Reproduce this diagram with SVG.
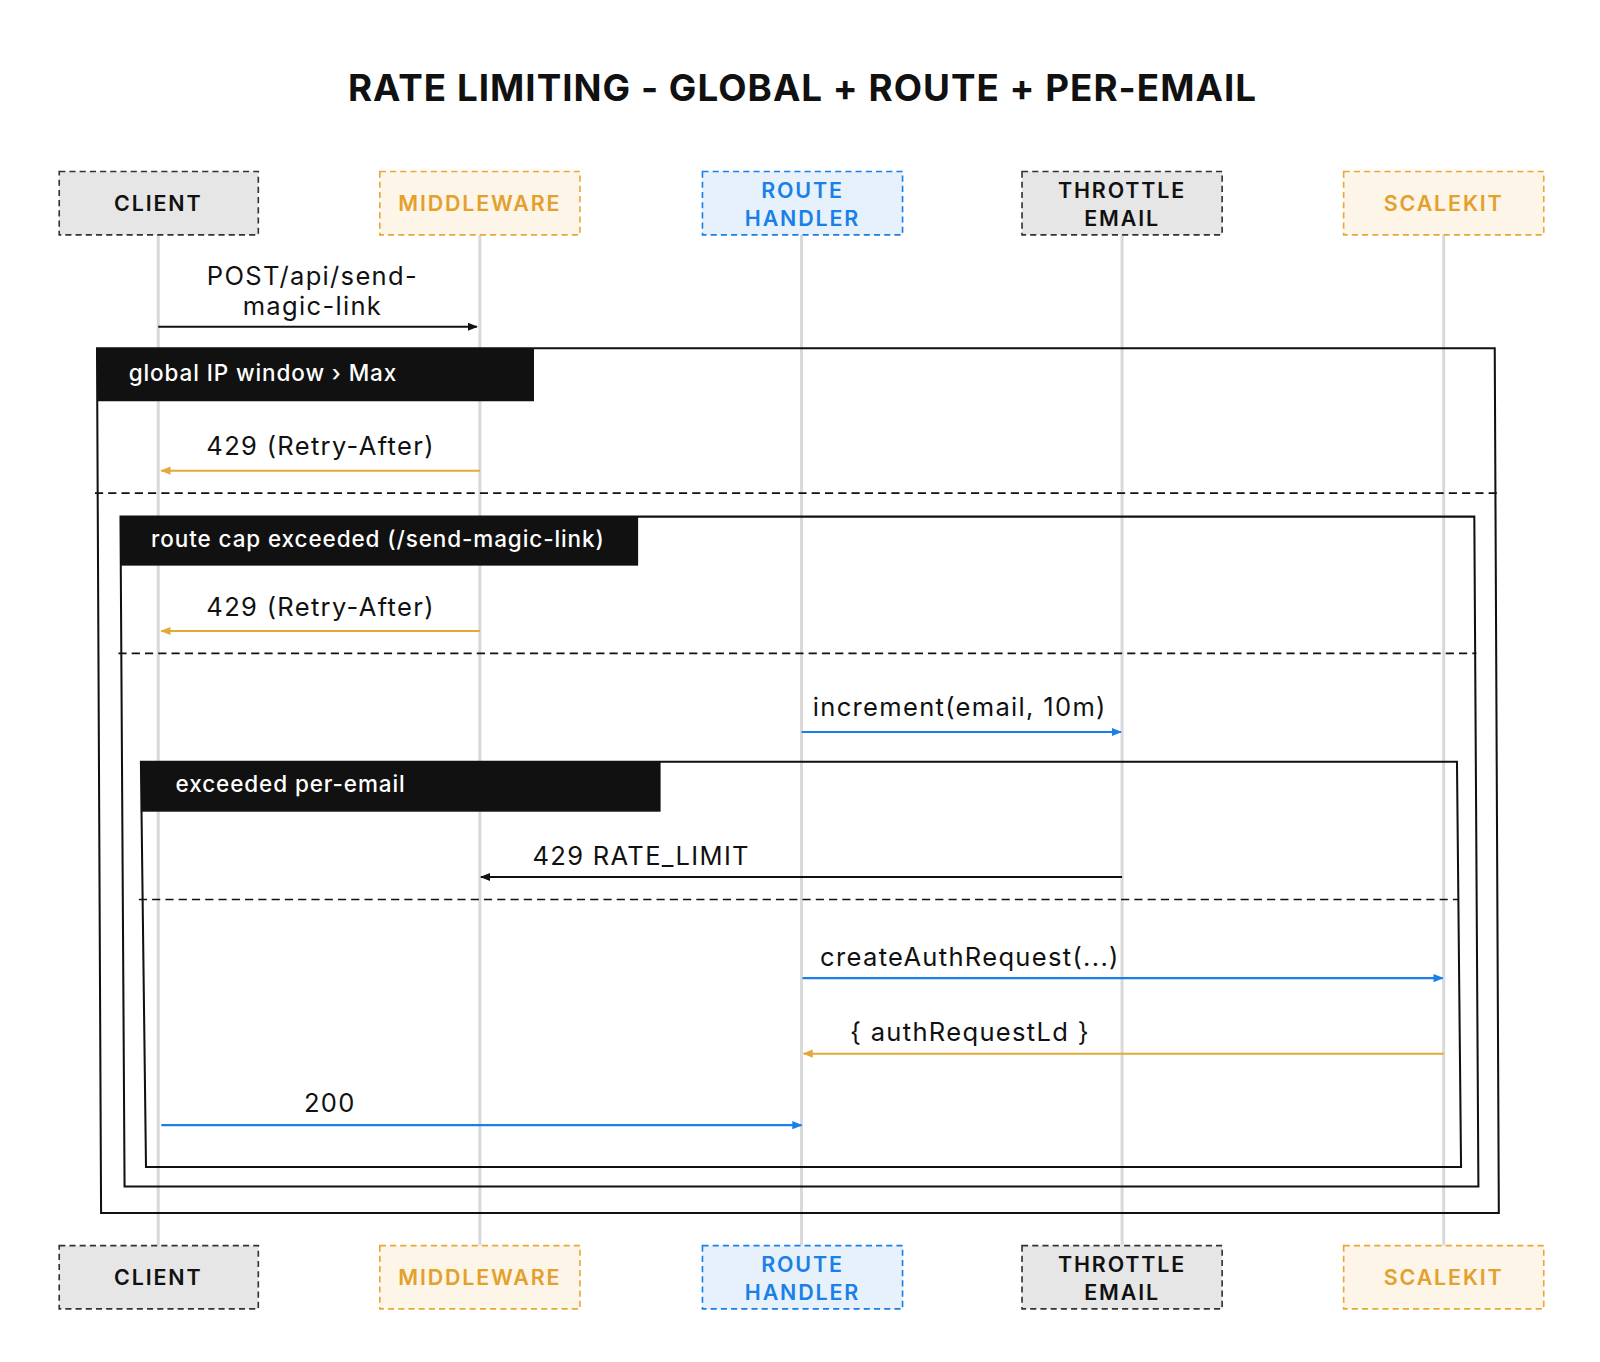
<svg xmlns="http://www.w3.org/2000/svg" width="1600" height="1362" viewBox="0 0 1600 1362">
<style>
text{font-family:Inter,"Open Sans",sans-serif}
.life{stroke:#d9d9d9;stroke-width:3}
.hd{font-weight:600;font-size:21px;letter-spacing:1.8px;text-anchor:middle}
.g rect{fill:#e6e6e6;stroke:#333;stroke-width:1.6;stroke-dasharray:6 4}
.o rect{fill:#fdf5e8;stroke:#e8a838;stroke-width:1.6;stroke-dasharray:6 4}
.b rect{fill:#e6f1fb;stroke:#1a7fe8;stroke-width:1.6;stroke-dasharray:6 4}
.g text{fill:#111}.o text{fill:#e3a02c}.b text{fill:#1a7fe8}
.fr{fill:none;stroke:#111;stroke-width:2}
.lb{fill:#111}
.lt{fill:#fff;font-size:22px;font-weight:500;letter-spacing:0.9px}
.dash{stroke:#111;stroke-width:1.6;stroke-dasharray:8 5}
.m{font-size:25px;fill:#111;letter-spacing:1.3px}
</style>
<defs>
<marker id="ak" markerWidth="10" markerHeight="10" refX="9" refY="5" orient="auto" markerUnits="userSpaceOnUse"><path d="M0,1 L10,5 L0,9z" fill="#111"/></marker>
<marker id="ao" markerWidth="10" markerHeight="10" refX="9" refY="5" orient="auto" markerUnits="userSpaceOnUse"><path d="M0,1 L10,5 L0,9z" fill="#e3a838"/></marker>
<marker id="ab" markerWidth="10" markerHeight="10" refX="9" refY="5" orient="auto" markerUnits="userSpaceOnUse"><path d="M0,1 L10,5 L0,9z" fill="#1a7fe8"/></marker>
</defs>
<rect width="1600" height="1362" fill="#fff"/>
<g transform="scale(1.021)">
<text x="786" y="99" text-anchor="middle" font-size="36" font-weight="700" letter-spacing="1" fill="#111">RATE LIMITING - GLOBAL + ROUTE + PER-EMAIL</text>
<g id="lifelines">
<line class="life" x1="155" y1="230" x2="155" y2="1220"/>
<line class="life" x1="470" y1="230" x2="470" y2="1220"/>
<line class="life" x1="785" y1="230" x2="785" y2="1220"/>
<line class="life" x1="1099" y1="230" x2="1099" y2="1220"/>
<line class="life" x1="1414" y1="230" x2="1414" y2="1220"/>
</g>
<g id="client" class="g"><rect x="58" y="168" width="195" height="62"/><text class="hd" x="155" y="207">CLIENT</text></g>
<g id="middleware" class="o"><rect x="372" y="168" width="196" height="62"/><text class="hd" x="470" y="207">MIDDLEWARE</text></g>
<g id="route" class="b"><rect x="688" y="168" width="196" height="62"/><text class="hd" x="786" y="194">ROUTE</text><text class="hd" x="786" y="221">HANDLER</text></g>
<g id="throttle" class="g"><rect x="1001" y="168" width="196" height="62"/><text class="hd" x="1099" y="194">THROTTLE</text><text class="hd" x="1099" y="221">EMAIL</text></g>
<g id="scalekit" class="o"><rect x="1316" y="168" width="196" height="62"/><text class="hd" x="1414" y="207">SCALEKIT</text></g>
<g id="client-b" class="g"><rect x="58" y="1220" width="195" height="62"/><text class="hd" x="155" y="1259">CLIENT</text></g>
<g id="middleware-b" class="o"><rect x="372" y="1220" width="196" height="62"/><text class="hd" x="470" y="1259">MIDDLEWARE</text></g>
<g id="route-b" class="b"><rect x="688" y="1220" width="196" height="62"/><text class="hd" x="786" y="1246">ROUTE</text><text class="hd" x="786" y="1273">HANDLER</text></g>
<g id="throttle-b" class="g"><rect x="1001" y="1220" width="196" height="62"/><text class="hd" x="1099" y="1246">THROTTLE</text><text class="hd" x="1099" y="1273">EMAIL</text></g>
<g id="scalekit-b" class="o"><rect x="1316" y="1220" width="196" height="62"/><text class="hd" x="1414" y="1259">SCALEKIT</text></g>
<g id="frames">
<polygon class="fr" points="95,341 1464,341 1468,1188 99,1188"/>
<rect class="lb" x="95" y="341" width="428" height="52"/>
<text class="lt" x="126" y="373">global IP window  › Max</text>
<line class="dash" x1="93" y1="483" x2="1466" y2="483"/>
<polygon class="fr" points="118,506 1444,506 1448,1162 122,1162"/>
<rect class="lb" x="118" y="506" width="507" height="48"/>
<text class="lt" x="148" y="536">route cap exceeded (/send-magic-link)</text>
<line class="dash" x1="116" y1="640" x2="1446" y2="640"/>
<polygon class="fr" points="138,746 1427,746 1431,1143 143,1143"/>
<rect class="lb" x="138" y="746" width="509" height="49"/>
<text class="lt" x="172" y="776">exceeded per-email</text>
<line class="dash" x1="136" y1="881" x2="1429" y2="881"/>
</g>
<g id="connectors">
<line x1="155" y1="320" x2="467" y2="320" stroke="#111" stroke-width="2" marker-end="url(#ak)"/>
<text class="m" x="306" y="279" text-anchor="middle">POST/api/send-</text>
<text class="m" x="306" y="309" text-anchor="middle">magic-link</text>
<line x1="470" y1="461" x2="158" y2="461" stroke="#e3a838" stroke-width="2" marker-end="url(#ao)"/>
<text class="m" x="314" y="446" text-anchor="middle">429 (Retry-After)</text>
<line x1="470" y1="618" x2="158" y2="618" stroke="#e3a838" stroke-width="2" marker-end="url(#ao)"/>
<text class="m" x="314" y="603" text-anchor="middle">429 (Retry-After)</text>
<line x1="785" y1="717" x2="1098" y2="717" stroke="#1a7fe8" stroke-width="2" marker-end="url(#ab)"/>
<text class="m" x="940" y="701" text-anchor="middle">increment(email, 10m)</text>
<line x1="1099" y1="859" x2="471" y2="859" stroke="#111" stroke-width="2" marker-end="url(#ak)"/>
<text class="m" x="628" y="847" text-anchor="middle">429 RATE_LIMIT</text>
<line x1="786" y1="958" x2="1413" y2="958" stroke="#1a7fe8" stroke-width="2" marker-end="url(#ab)"/>
<text class="m" x="950" y="946" text-anchor="middle">createAuthRequest(...)</text>
<line x1="1414" y1="1032" x2="787" y2="1032" stroke="#e3a838" stroke-width="2" marker-end="url(#ao)"/>
<text class="m" x="950" y="1020" text-anchor="middle">{ authRequestLd }</text>
<line x1="158" y1="1102" x2="785" y2="1102" stroke="#1a7fe8" stroke-width="2" marker-end="url(#ab)"/>
<text class="m" x="323" y="1089" text-anchor="middle">200</text>
</g>
</g>
</svg>
